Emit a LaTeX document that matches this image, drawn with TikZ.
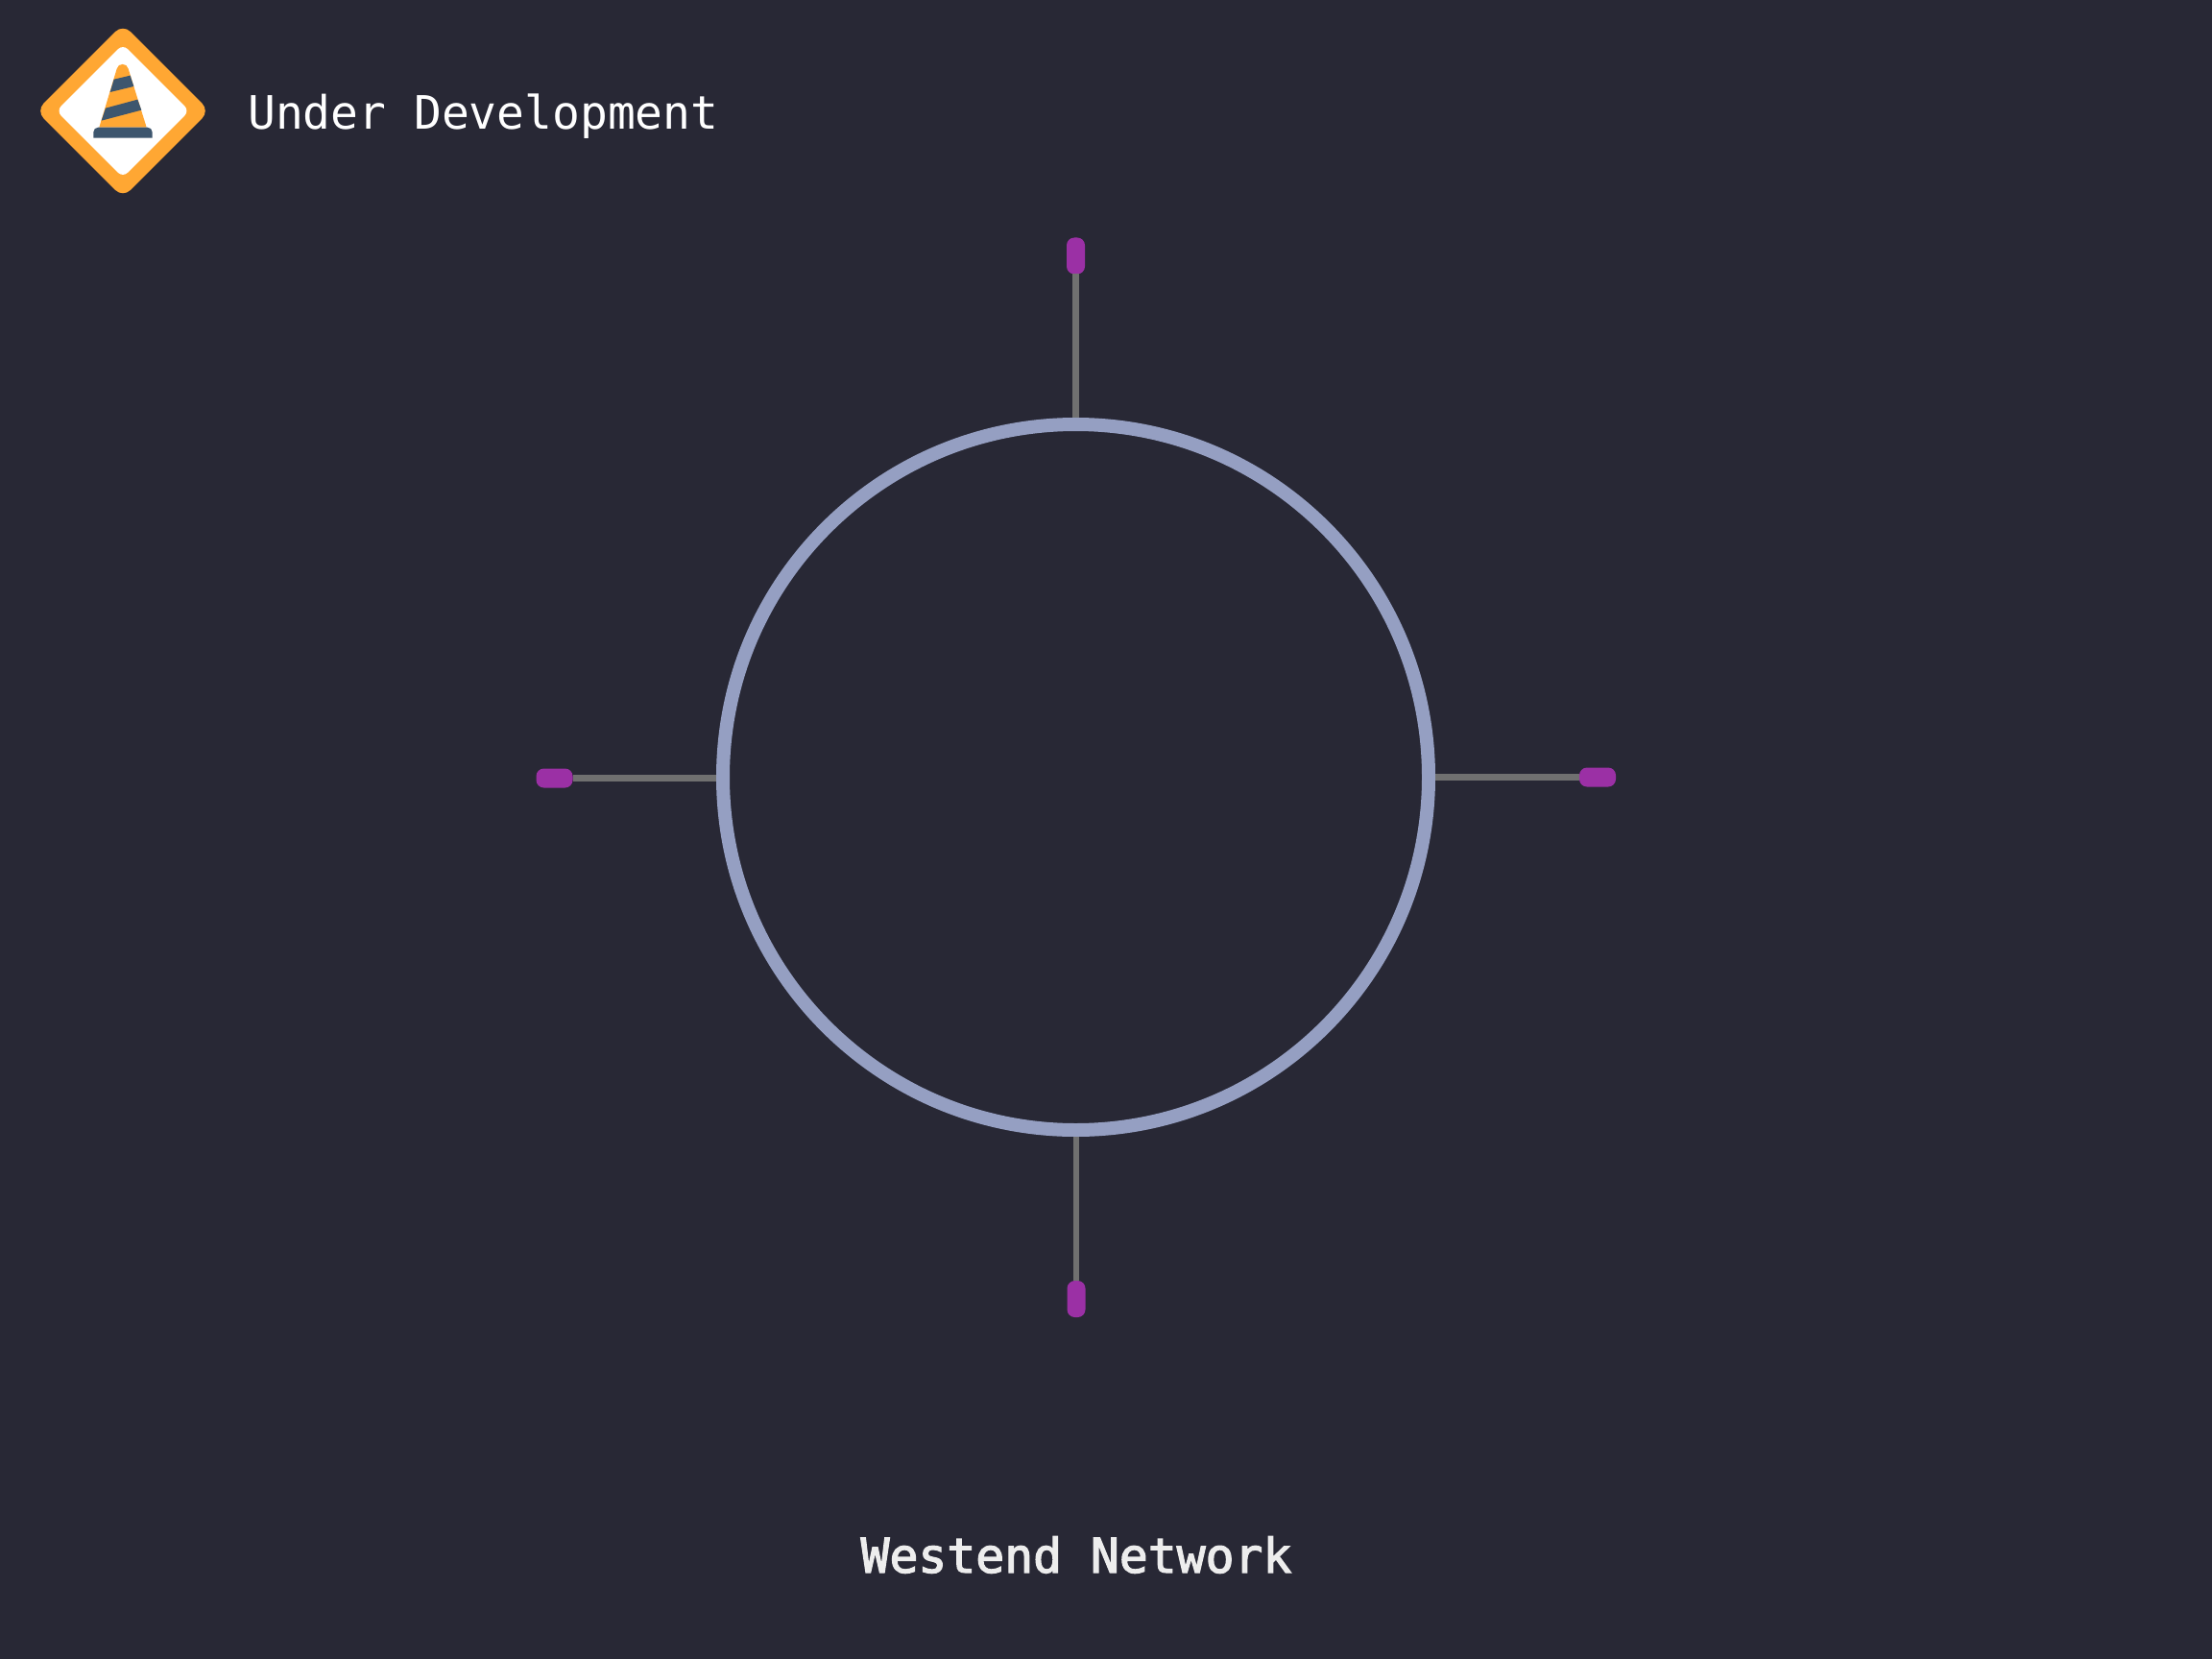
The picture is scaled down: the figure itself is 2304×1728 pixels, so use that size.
\documentclass[tikz,border=0pt]{standalone}
\usepackage{fontspec}
\setmonofont{DejaVu Sans Mono}
\newfontfamily\netfont[FakeBold=2.5]{DejaVu Sans Mono}
\definecolor{bg}{HTML}{282835}
\definecolor{ringc}{HTML}{959FC2}
\definecolor{portc}{HTML}{9B30A5}
\definecolor{stemc}{HTML}{707070}
\definecolor{conea}{HTML}{FFA733}
\definecolor{coneb}{HTML}{3D566E}
\tikzset{
  ringnode/.style={circle,draw=ringc,line width=14pt,minimum size=735pt,inner sep=0pt},
  porth/.style={rectangle,fill=portc,rounded corners=8pt,minimum width=38pt,minimum height=20pt,inner sep=0pt,outer sep=0pt},
  portv/.style={rectangle,fill=portc,rounded corners=8pt,minimum width=19pt,minimum height=38pt,inner sep=0pt,outer sep=0pt},
  stem/.style={draw=stemc,line width=6.5pt},
  toptext/.style={text=white,font=\ttfamily\fontsize{47.9}{58}\selectfont,inner sep=0pt},
  nettext/.style={text=white!93!black,font=\netfont\fontsize{49.7}{60}\selectfont,inner sep=0pt}
}
\begin{document}
\begin{tikzpicture}[x=1pt,y=-1pt]
\useasboundingbox (0,0) rectangle (2304,1728);
\fill[bg] (0,0) rectangle (2304,1728);
\node[ringnode] (ring) at (1120.5,809.5) {};
\node[portv] (pn) at (1120.5,266.5) {};
\node[portv] (ps) at (1121,1353) {};
\node[porth] (pw) at (577.5,810.5) {};
\node[porth] (pe) at (1664,809.5) {};
\draw[stem] (pn.south |- ring.north) -- (pn.south);
\draw[stem] (ps.north |- ring.south) -- (ps.north);
\draw[stem] (pw.east -| ring.west) -- (pw.east);
\draw[stem] (pe.west -| ring.east) -- (pe.west);
\begin{scope}[shift={(20,10)},x=0.3333pt,y=-0.3333pt]
  \fill[conea,rounded corners=11pt] (324,45.5) -- (595,316.5) -- (324,587.5) -- (53,316.5) -- cycle;
  \fill[white,rounded corners=7pt] (324,108.5) -- (532,316.5) -- (324,524.5) -- (116,316.5) -- cycle;
  \fill[conea] (250,368) -- (305,185) .. controls (309,166) and (337,166) .. (341,185) -- (398,368) -- cycle;
  \fill[coneb] (296,218) -- (347,206) -- (358,240) -- (284,258) -- cycle;
  \fill[coneb] (270,308) -- (370,281) -- (382,314) -- (257,347) -- cycle;
  \fill[coneb] (232,401) {[rounded corners=5pt] -- (232,368) -- (416,368)} -- (416,401) -- cycle;
\end{scope}
\node[toptext,anchor=base west] (title) at (258,135) {Under Development};
\node[nettext,anchor=base] (net) at (1121,1638) {Westend Network};
\end{tikzpicture}
\end{document}
